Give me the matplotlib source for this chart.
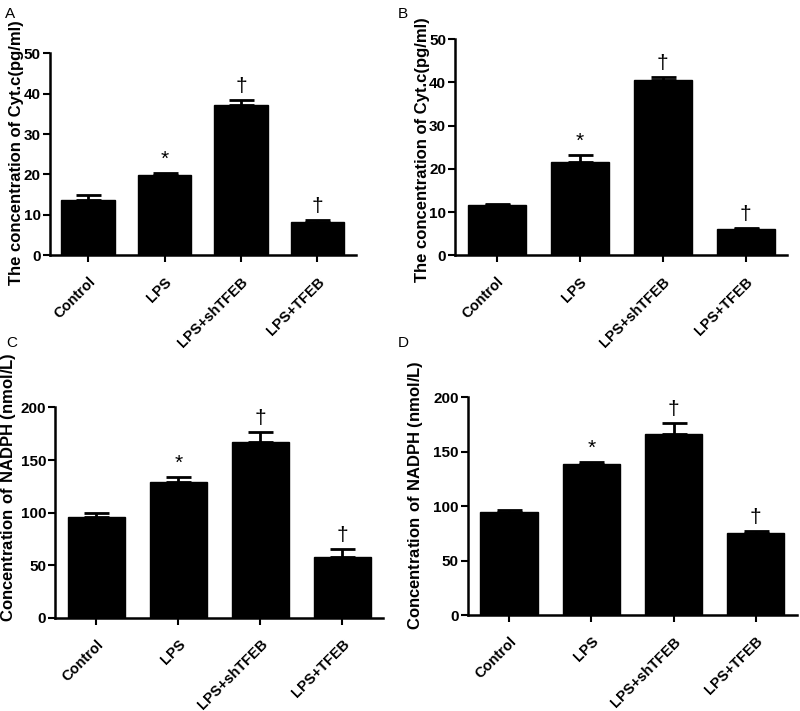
import matplotlib
matplotlib.use("Agg")
import matplotlib.pyplot as plt
import numpy as np

plt.rcParams['font.family'] = ['Liberation Sans', 'DejaVu Sans']
plt.rcParams['mathtext.fontset'] = 'custom'
plt.rcParams['mathtext.rm'] = 'Liberation Sans'
plt.rcParams['mathtext.bf'] = 'Liberation Sans:bold'

# Data
groups = ['Control', 'LPS', 'LPS+shTFEB', 'LPS+TFEB']

cytc_a = [13.6, 19.9, 37.1, 8.3]
cytc_a_err = [1.4, 0.5, 1.4, 0.4]
cytc_b = [11.6, 21.5, 40.5, 6.1]
cytc_b_err = [0.3, 1.6, 0.8, 0.2]
nadph_c = [95.9, 129.2, 167.0, 57.8]
nadph_c_err = [3.5, 4.8, 9.5, 7.9]
nadph_d = [94.7, 138.5, 166.0, 75.0]
nadph_d_err = [1.5, 1.8, 10.8, 2.2]

marks = ['', '*', '\u2020', '\u2020']

cyt_label = 'The concentration of Cyt.c(pg/ml)'
nadph_label = r'$\mathbf{Concentration\ of\ NADPH}$ (nmol/L)'

fig = plt.figure(figsize=(8, 7.11), dpi=100)

panels = [
    # letter, rect, values, errors, ylim, yticks, ylabel, label coords, letter pos
    ('A', [0.0625, 0.641, 0.382, 0.284], cytc_a, cytc_a_err, 50, np.arange(0, 51, 10),
     cyt_label, (-0.085, 0.51), (0.006, 0.99)),
    ('B', [0.569, 0.641, 0.415, 0.304], cytc_b, cytc_b_err, 50, np.arange(0, 51, 10),
     cyt_label, (-0.075, 0.49), (0.497, 0.99)),
    ('C', [0.069, 0.131, 0.41, 0.296], nadph_c, nadph_c_err, 200, np.arange(0, 201, 50),
     nadph_label, (-0.112, 0.62), (0.008, 0.528)),
    ('D', [0.585, 0.135, 0.411, 0.306], nadph_d, nadph_d_err, 200, np.arange(0, 201, 50),
     nadph_label, (-0.13, 0.55), (0.497, 0.528)),
]

x = np.arange(len(groups))

for letter, rect, vals, errs, ymax, yticks, ylabel, lcoords, lpos in panels:
    ax = fig.add_axes(rect)
    ax.bar(x, vals, width=0.7, color='black', edgecolor='black', zorder=2)
    ax.errorbar(x, vals, yerr=[np.zeros(len(vals)), errs], fmt='none',
                ecolor='black', elinewidth=2, capsize=9, capthick=2, zorder=3)
    for xi, v, e, m in zip(x, vals, errs, marks):
        if m:
            ax.annotate(m, (xi, v + e), xytext=(0, 3), textcoords='offset points',
                        ha='center', va='bottom', fontsize=15)
    ax.set_xlim(-0.5, 3.5)
    ax.set_ylim(0, ymax)
    ax.set_yticks(yticks)
    ax.set_xticks(x)
    ax.set_xticklabels(groups, rotation=45, ha='right', rotation_mode='anchor',
                       fontweight='bold', fontsize=10.5)
    for lab in ax.get_yticklabels():
        lab.set_fontweight('bold')
        lab.set_fontsize(11)
    ax.spines['top'].set_visible(False)
    ax.spines['right'].set_visible(False)
    ax.spines['left'].set_linewidth(1.8)
    ax.spines['bottom'].set_linewidth(1.8)
    ax.tick_params(axis='y', width=1.5, length=5, pad=1.5)
    ax.tick_params(axis='x', width=1.5, length=5, pad=9)
    ax.set_ylabel(ylabel, fontsize=12, fontweight='bold')
    ax.yaxis.set_label_coords(*lcoords)
    fig.text(lpos[0], lpos[1], letter, fontsize=11, ha='left', va='top')

fig.savefig('out.png', dpi=100)
